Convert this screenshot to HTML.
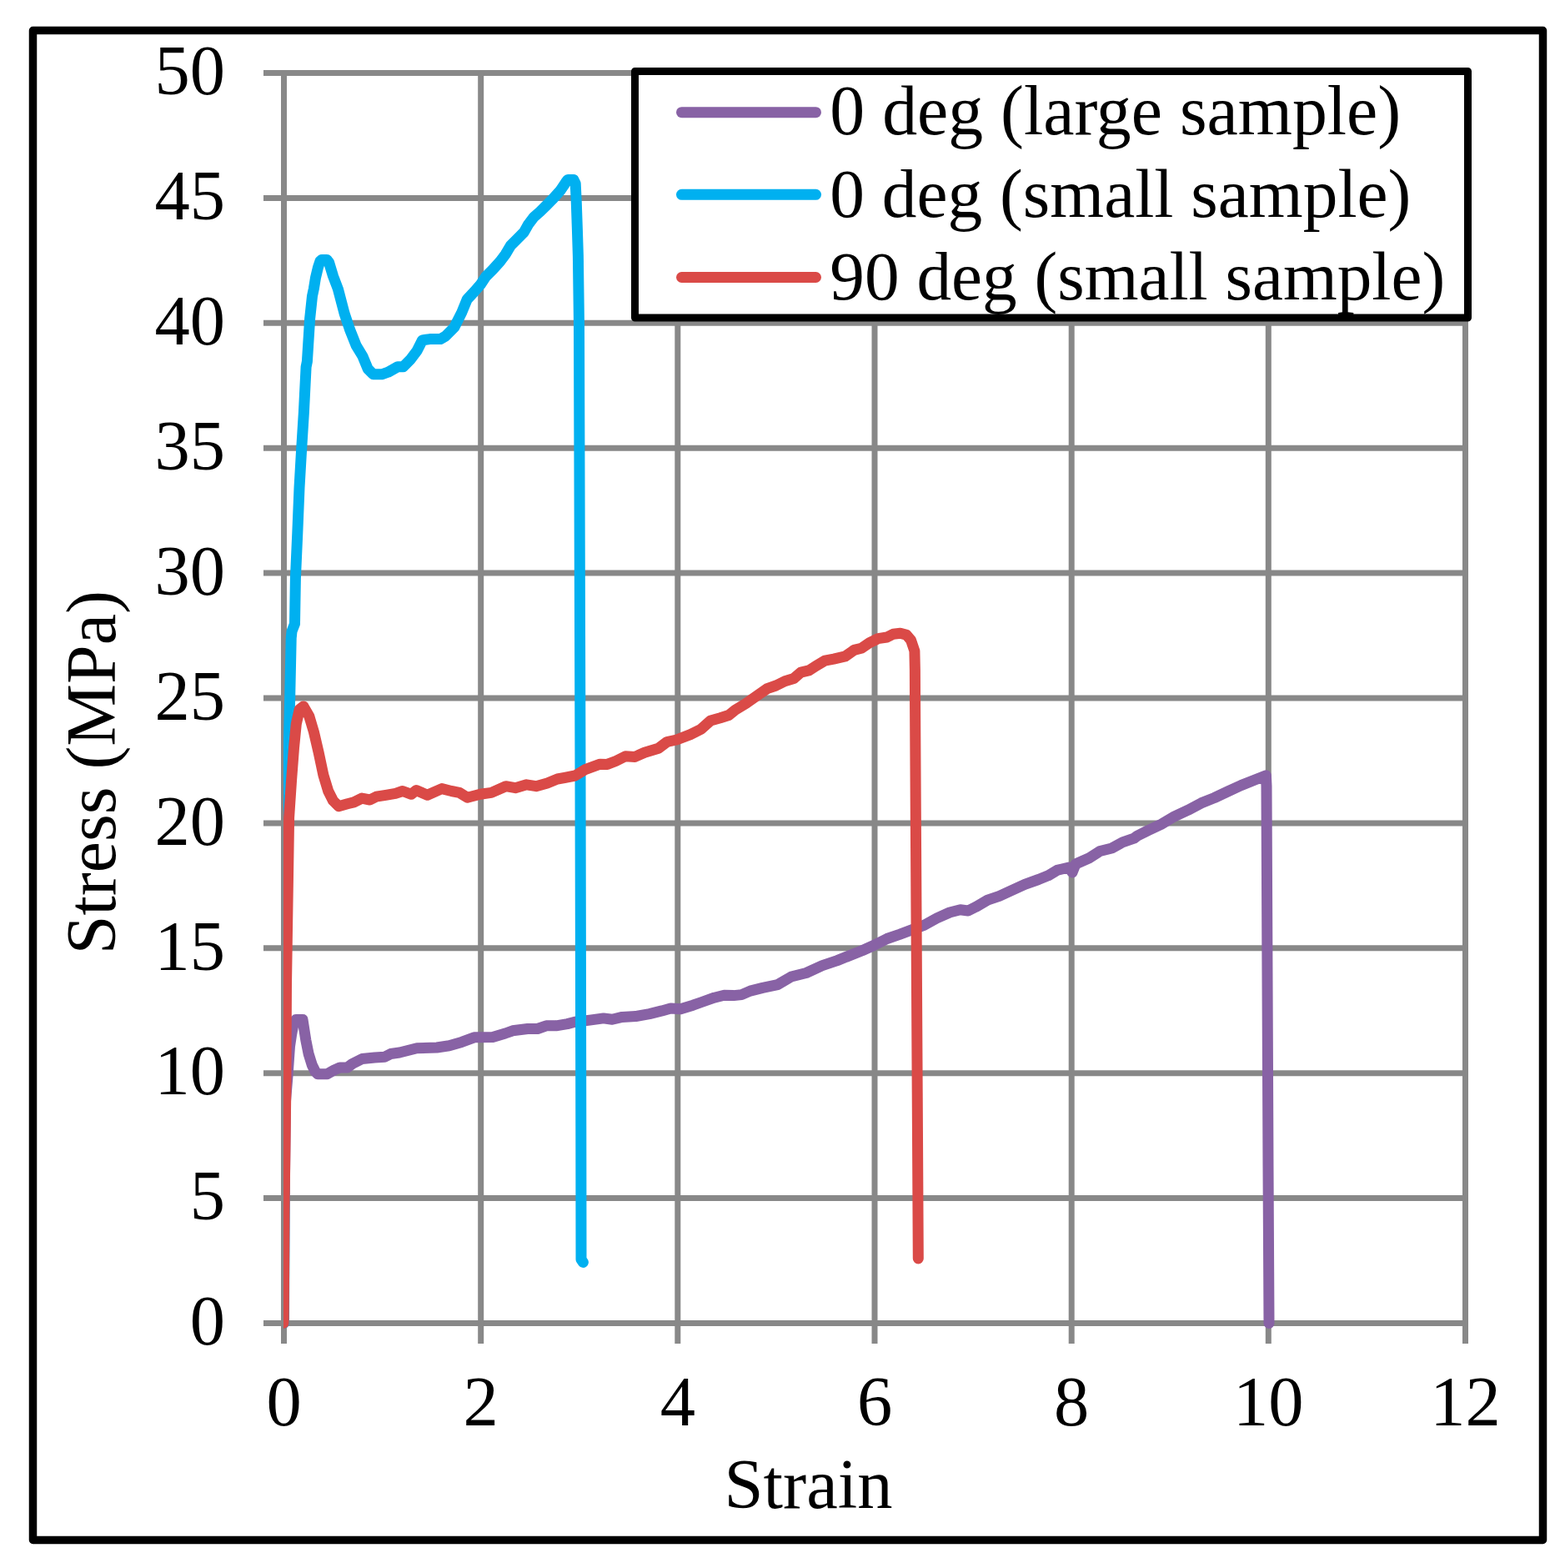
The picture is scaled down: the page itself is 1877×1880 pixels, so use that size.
<!DOCTYPE html>
<html><head><meta charset="utf-8"><title>Stress-Strain</title>
<style>
html,body{margin:0;padding:0;background:#fff;}
svg{display:block;}
text{font-family:"Liberation Serif", "Times New Roman", serif;font-size:84.5px;fill:#000;}
</style></head><body>
<svg width="1877" height="1880" viewBox="0 0 1877 1880">
<rect x="0" y="0" width="1877" height="1880" fill="#fff"/>
<defs><clipPath id="pa"><rect x="340" y="84" width="1418" height="1509"/></clipPath></defs>
<g stroke="#888888" stroke-width="7" fill="none"><line x1="316" y1="1586.5" x2="1761.0" y2="1586.5"/><line x1="316" y1="1436.6" x2="1761.0" y2="1436.6"/><line x1="316" y1="1286.7" x2="1761.0" y2="1286.7"/><line x1="316" y1="1136.8" x2="1761.0" y2="1136.8"/><line x1="316" y1="986.9" x2="1761.0" y2="986.9"/><line x1="316" y1="837.0" x2="1761.0" y2="837.0"/><line x1="316" y1="687.1" x2="1761.0" y2="687.1"/><line x1="316" y1="537.2" x2="1761.0" y2="537.2"/><line x1="316" y1="387.3" x2="1761.0" y2="387.3"/><line x1="316" y1="237.4" x2="1761.0" y2="237.4"/><line x1="316" y1="87.5" x2="1761.0" y2="87.5"/><line x1="340.5" y1="87.5" x2="340.5" y2="1611"/><line x1="576.7" y1="87.5" x2="576.7" y2="1611"/><line x1="812.8" y1="87.5" x2="812.8" y2="1611"/><line x1="1049.0" y1="87.5" x2="1049.0" y2="1611"/><line x1="1285.2" y1="87.5" x2="1285.2" y2="1611"/><line x1="1521.3" y1="87.5" x2="1521.3" y2="1611"/><line x1="1757.5" y1="87.5" x2="1757.5" y2="1611"/></g>
<g clip-path="url(#pa)" fill="none" stroke-width="13" stroke-linejoin="round" stroke-linecap="round">
<path stroke="#8862A5" d="M340.2,1586.5 L341.0,1450.0 L342.5,1320.0 L345.0,1290.0 L347.5,1254.6 L349.7,1239.7 L352.0,1228.0 L355.0,1222.5 L363.0,1222.5 L366.8,1247.0 L370.1,1263.5 L374.3,1277.0 L378.0,1284.5 L381.0,1287.7 L392.6,1287.7 L400.9,1282.9 L407.6,1280.0 L416.5,1280.0 L422.5,1275.5 L434.4,1269.5 L449.3,1268.0 L461.3,1267.3 L468.7,1263.5 L479.2,1262.0 L500.0,1256.8 L523.9,1256.0 L538.8,1253.8 L553.7,1249.4 L568.7,1243.8 L591.0,1243.4 L606.0,1239.0 L614.9,1235.8 L632.8,1233.5 L644.7,1233.5 L655.2,1229.8 L667.1,1229.8 L680.5,1227.6 L689.5,1225.3 L707.4,1223.1 L723.8,1220.9 L734.2,1222.3 L746.2,1219.4 L762.6,1218.6 L779.0,1215.6 L793.9,1211.9 L804.4,1208.9 L816.3,1209.7 L831.2,1205.2 L841.6,1201.5 L856.6,1196.2 L868.5,1193.3 L880.0,1193.6 L889.4,1192.6 L899.8,1188.1 L914.7,1184.4 L932.6,1180.7 L949.1,1171.0 L967.0,1166.5 L986.3,1157.6 L1004.2,1151.6 L1019.2,1145.6 L1034.1,1139.7 L1049.0,1133.0 L1063.9,1125.5 L1078.8,1120.3 L1090.8,1115.8 L1108.7,1109.1 L1123.6,1100.9 L1139.0,1094.0 L1151.7,1090.8 L1161.1,1092.0 L1170.5,1087.3 L1184.5,1079.1 L1198.6,1074.4 L1212.7,1067.9 L1229.1,1060.3 L1245.5,1054.5 L1257.2,1049.8 L1268.0,1043.4 L1282.0,1040.0 L1286.0,1046.0 L1290.0,1036.0 L1306.4,1028.7 L1319.3,1020.5 L1333.4,1017.0 L1346.3,1009.9 L1360.0,1005.2 L1363.9,1002.3 L1376.6,995.9 L1392.6,988.4 L1408.6,978.8 L1424.6,971.4 L1440.6,962.9 L1456.6,956.5 L1472.5,949.0 L1488.5,941.6 L1504.5,935.2 L1518.4,929.8 L1519.0,942.6 L1521.0,1400.0 L1522.0,1586.5"/>
<path stroke="#00B0F0" d="M340.5,1586.5 L341.5,1300.0 L343.0,1100.0 L345.0,950.0 L347.8,831.0 L349.2,765.0 L350.0,757.0 L353.5,748.0 L354.4,693.4 L356.8,639.1 L359.0,584.8 L361.7,537.7 L364.4,494.3 L367.1,440.0 L368.4,433.5 L371.6,382.3 L374.5,355.0 L376.4,346.0 L378.5,333.0 L381.5,320.5 L384.0,313.0 L386.0,311.4 L392.0,311.4 L394.5,314.5 L399.5,331.0 L405.4,346.5 L413.1,375.9 L419.5,395.0 L427.2,414.3 L434.9,427.0 L441.3,442.4 L447.6,448.8 L457.9,448.8 L465.5,446.2 L477.0,439.8 L483.5,439.8 L492.4,430.9 L500.1,420.7 L506.5,407.9 L515.4,406.6 L528.2,406.6 L534.6,402.8 L544.8,392.5 L553.8,374.6 L560.2,359.0 L568.8,349.8 L576.2,341.3 L582.6,331.7 L591.1,323.2 L599.7,313.6 L606.1,305.1 L612.5,294.4 L621.0,285.9 L628.4,278.4 L633.8,268.8 L640.2,260.3 L647.6,253.9 L655.1,246.5 L663.6,237.9 L672.1,228.4 L678.5,218.8 L681.0,215.5 L688.0,215.5 L690.2,220.0 L691.3,243.3 L692.4,275.2 L693.4,307.2 L694.5,390.0 L696.0,930.0 L696.8,1350.0 L697.0,1510.0 L699.4,1513.4"/>
<path stroke="#DA4A47" d="M340.2,1586.5 L341.0,1450.0 L342.9,1300.0 L343.5,1180.0 L346.6,980.0 L349.6,935.1 L352.5,896.7 L355.3,868.0 L359.2,850.7 L364.0,846.9 L370.7,858.4 L376.4,877.5 L382.2,902.5 L387.9,929.3 L393.7,948.5 L399.5,960.0 L406.2,966.7 L416.7,963.8 L424.4,961.9 L434.0,957.1 L443.6,959.0 L451.2,955.2 L462.7,953.3 L474.3,951.4 L482.9,948.5 L493.4,952.3 L499.2,947.5 L512.6,953.3 L529.9,945.6 L541.4,948.5 L551.0,950.4 L560.6,956.2 L575.9,952.3 L589.3,950.4 L606.6,942.7 L618.1,944.7 L631.5,940.8 L643.0,942.7 L656.4,938.9 L668.5,934.0 L677.0,932.5 L689.8,930.0 L702.6,922.3 L719.7,916.2 L728.4,916.4 L738.6,912.5 L750.1,906.8 L761.6,907.4 L773.1,902.3 L789.7,897.2 L800.0,889.5 L811.5,887.0 L828.1,880.6 L840.9,874.2 L852.4,863.9 L863.9,860.7 L874.1,857.5 L881.8,851.2 L894.6,843.5 L907.4,834.5 L920.2,825.6 L930.7,822.0 L941.3,816.7 L952.0,813.5 L960.5,806.1 L970.1,803.9 L978.6,798.6 L989.3,792.2 L999.9,790.1 L1013.8,786.9 L1024.4,779.4 L1033.0,777.3 L1042.5,770.9 L1053.2,765.6 L1063.8,764.0 L1071.3,760.2 L1079.8,759.2 L1087.3,761.3 L1092.6,767.7 L1096.9,780.5 L1097.4,803.9 L1097.6,850.0 L1100.2,1310.0 L1101.3,1509.0"/>
</g>
<text x="270" y="1612.2" text-anchor="end">0</text>
<text x="270" y="1462.3" text-anchor="end">5</text>
<text x="270" y="1312.4" text-anchor="end">10</text>
<text x="270" y="1162.5" text-anchor="end">15</text>
<text x="270" y="1012.6" text-anchor="end">20</text>
<text x="270" y="862.7" text-anchor="end">25</text>
<text x="270" y="712.8" text-anchor="end">30</text>
<text x="270" y="562.9" text-anchor="end">35</text>
<text x="270" y="413.0" text-anchor="end">40</text>
<text x="270" y="263.1" text-anchor="end">45</text>
<text x="270" y="113.2" text-anchor="end">50</text>
<text x="340.5" y="1709.3" text-anchor="middle">0</text>
<text x="576.7" y="1709.3" text-anchor="middle">2</text>
<text x="812.8" y="1709.3" text-anchor="middle">4</text>
<text x="1049.0" y="1709.3" text-anchor="middle">6</text>
<text x="1285.2" y="1709.3" text-anchor="middle">8</text>
<text x="1521.3" y="1709.3" text-anchor="middle">10</text>
<text x="1757.5" y="1709.3" text-anchor="middle">12</text>
<text x="868.6" y="1808.2">Strain</text>
<text transform="translate(137.5,1144.3) rotate(-90)" x="0" y="0" style="font-size:84px">Stress (MPa)</text>
<rect x="761.5" y="85.5" width="999" height="295.5" fill="#fff" stroke="#000" stroke-width="9" stroke-linejoin="round"/>
<line x1="817.5" y1="134.7" x2="978.5" y2="134.7" stroke="#8862A5" stroke-width="13" stroke-linecap="round"/>
<text x="995.3" y="160.7" style="font-size:83.8px">0 deg (large sample)</text>
<line x1="817.5" y1="233.3" x2="978.5" y2="233.3" stroke="#00B0F0" stroke-width="13" stroke-linecap="round"/>
<text x="995.3" y="259.6" style="font-size:83.4px">0 deg (small sample)</text>
<line x1="817.5" y1="332.5" x2="978.5" y2="332.5" stroke="#DA4A47" stroke-width="13" stroke-linecap="round"/>
<text x="995.3" y="358.7" style="font-size:83.3px">90 deg (small sample)</text>
<rect x="39.5" y="36.5" width="1811" height="1810" fill="none" stroke="#000" stroke-width="9.5" stroke-linejoin="round"/>
</svg>
</body></html>
